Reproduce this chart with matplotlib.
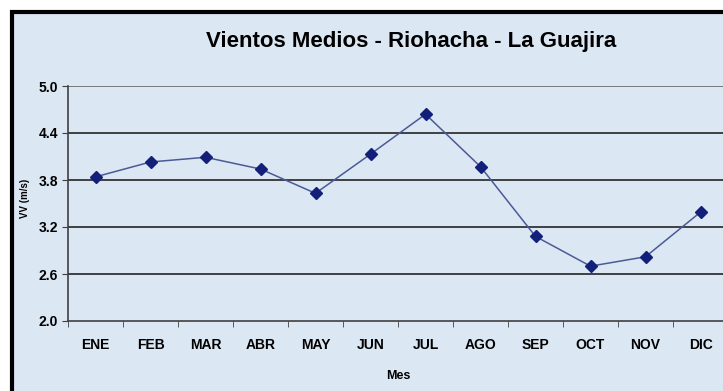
import matplotlib.pyplot as plt
from matplotlib.patches import Rectangle

meses = ["ENE", "FEB", "MAR", "ABR", "MAY", "JUN", "JUL", "AGO", "SEP", "OCT", "NOV", "DIC"]
viento = [3.84, 4.03, 4.09, 3.94, 3.63, 4.13, 4.64, 3.97, 3.08, 2.70, 2.82, 3.39]
yticks = [2.0, 2.6, 3.2, 3.8, 4.4, 5.0]

fuente = ["Liberation Sans Narrow", "Liberation Sans", "DejaVu Sans"]
fondo = "#dce7f4"

fig = plt.figure(figsize=(7.23, 3.91), dpi=100)
fig.patch.set_facecolor("white")

# chart area with black frame (cut at right and bottom)
fig.patches.append(Rectangle((12 / 723, -0.05), 1.0, 1 - 12 / 391 + 0.05,
                             transform=fig.transFigure, facecolor=fondo,
                             edgecolor="black", linewidth=3, zorder=-5))

ax = fig.add_axes([68 / 723, 70 / 391, 660 / 723, 235 / 391])
ax.set_facecolor(fondo)
x = range(len(meses))
ax.plot(x, viento, color="#4a5a96", linewidth=1.1, marker="D", markersize=6,
        markerfacecolor="#12207a", markeredgecolor="#12207a", zorder=3)

ax.set_xlim(-0.5, len(meses) - 0.5)
ax.set_ylim(2.0, 5.0)
ax.set_yticks(yticks)
ax.set_yticklabels([f"{v:.1f}" for v in yticks], fontsize=10, fontweight="bold", family=fuente)
ax.set_xticks(list(x))
ax.set_xticklabels(meses, fontsize=10, fontweight="bold", family=fuente)
ax.set_xticks([i + 0.5 for i in range(-1, len(meses))], minor=True)
ax.tick_params(axis="x", which="major", length=0, pad=12)
ax.tick_params(axis="x", which="minor", length=4, color="#404040", direction="out")
ax.tick_params(axis="y", length=4, color="#404040", pad=3)

for v in yticks[1:]:
    ax.axhline(v, color="#333333" if v < 5.0 else "#707070", linewidth=1.3, zorder=1)

for s in ["top", "right"]:
    ax.spines[s].set_visible(False)
ax.spines["left"].set_color("#404040")
ax.spines["bottom"].set_color("#404040")
ax.spines["left"].set_linewidth(1.2)
ax.spines["bottom"].set_linewidth(1.2)

ax.set_xlabel("Mes", fontsize=9, fontweight="bold", family=fuente)
ax.xaxis.set_label_coords(0.5, -0.21)
ax.set_ylabel("VV (m/s)", fontsize=7, fontweight="bold", family=fuente)
ax.yaxis.set_label_coords(-0.058, 0.52)

fig.text(411 / 723, 1 - 42 / 391, "Vientos Medios - Riohacha - La Guajira",
         ha="center", va="center", fontsize=16, fontweight="bold", family=fuente)

fig.savefig("out.png", dpi=100, facecolor=fig.get_facecolor())
